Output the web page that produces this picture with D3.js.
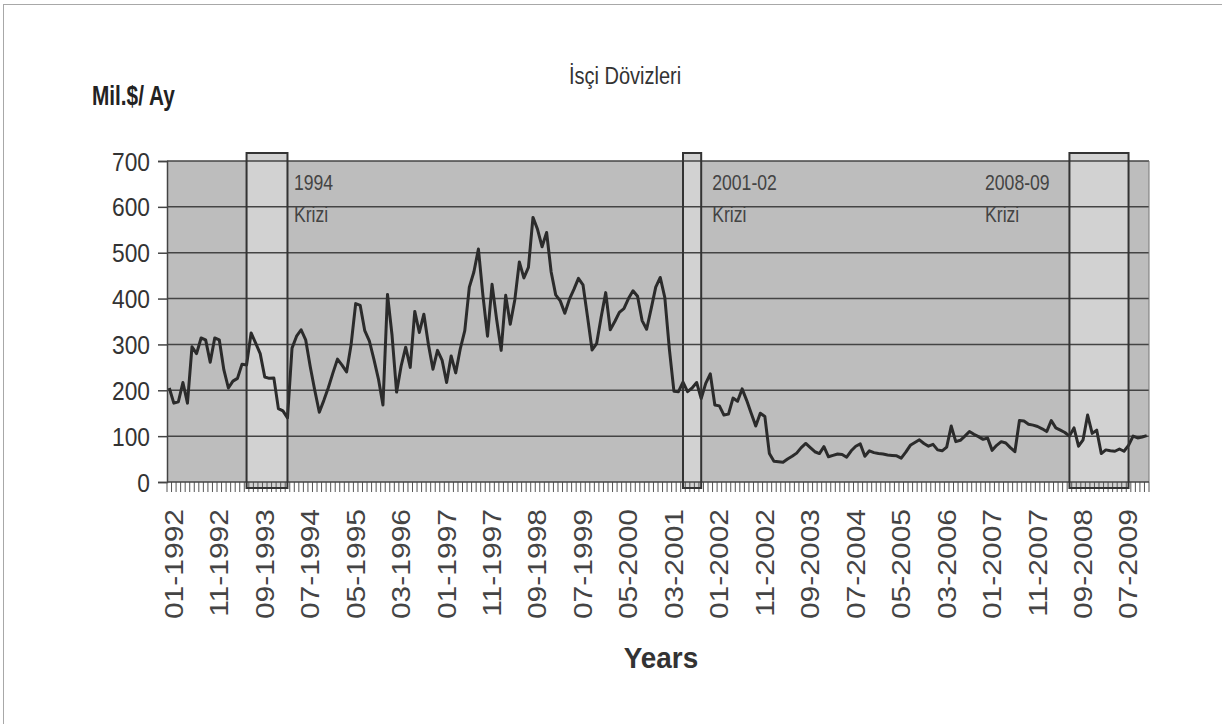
<!DOCTYPE html>
<html><head><meta charset="utf-8">
<script src="https://cdn.jsdelivr.net/npm/d3@7"></script>
<style>
body{margin:0;background:#fff;}
svg{display:block;font-family:"Liberation Sans",Arial,sans-serif;}
</style>
</head><body>
<svg id="c" width="1222" height="724"></svg>
<script>
// ---- DATA ----
const values = [
205,172,175,217,172,295,280,314,310,261,314,310,
245,205,220,226,257,255,325,303,280,229,226,227,
160,155,140,292,318,332,310,252,200,152,178,206,
238,268,255,240,300,389,385,330,308,268,225,168,
409,320,196,253,294,250,372,326,366,300,246,287,
266,217,275,238,290,330,425,458,508,406,318,431,
355,287,407,344,397,480,445,468,577,551,513,544,
458,408,395,368,398,420,444,430,360,288,302,360,
413,332,350,370,378,400,417,405,352,333,378,425,
446,402,290,198,197,218,197,205,217,182,215,236,
168,166,146,148,183,176,203,178,150,122,150,143,
62,45,44,43,50,56,63,75,84,75,66,62,
77,55,58,61,60,54,68,78,83,56,68,64,
62,61,59,58,57,52,65,80,86,92,84,78,
82,70,68,76,122,88,91,100,110,104,99,93,
96,69,80,88,85,75,66,134,133,126,124,121,
116,110,134,118,113,108,100,118,78,92,146,106,
113,62,70,68,67,72,67,80,100,96,98,101
];
const years = [1992,1993,1994,1995,1996,1997,1998,1999,2000,2001,2002,2003,2004,2005,2006,2007,2008,2009];
const monthCodes = ["01","02","03","04","05","06","07","08","09","10","11","12"];
const categories = [];
years.forEach(yr => monthCodes.forEach(m => categories.push(m + "-" + yr)));
const tickLabels = ["01-1992","11-1992","09-1993","07-1994","05-1995","03-1996","01-1997","11-1997",
  "09-1998","07-1999","05-2000","03-2001","01-2002","11-2002","09-2003","07-2004","05-2005",
  "03-2006","01-2007","11-2007","09-2008","07-2009"];
const yTicks = [0,100,200,300,400,500,600,700];
const crisisFrom = ["06-1993","06-2001","07-2008"];
const crisisTo   = ["03-1994","10-2001","08-2009"];
const crisisTitles = ["1994","2001-02","2008-09"];
const crisisWord = "Krizi";
const crisisLabelAt = ["04-1994","12-2001","12-2006"];
const title = "İsçi Dövizleri";
const yTitle = "Mil.$/ Ay";
const xTitle = "Years";

// ---- LAYOUT ----
const svg = d3.select("#c");
const L = 167, R = 1149, T = 161, B = 482;
const x = d3.scaleBand().domain(categories).range([L, R]).padding(0);
const y = d3.scaleLinear().domain([0, 700]).range([B, T]);
const cx = c => x(c) + x.bandwidth() / 2;

// outer frame
svg.append("rect").attr("x", 3.5).attr("y", 4.5).attr("width", 1222).attr("height", 730)
  .attr("fill", "#fff").attr("stroke", "#a8a8a8").attr("stroke-width", 1);

function stext(g, str, px, py, size, sx, opts) {
  opts = opts || {};
  return g.append("text")
    .attr("transform", `translate(${px},${py}) scale(${sx},1)` + (opts.rot ? ` rotate(${opts.rot})` : ""))
    .attr("font-size", size)
    .attr("font-weight", opts.bold ? "bold" : "normal")
    .attr("text-anchor", opts.anchor || "start")
    .attr("fill", opts.fill || "#222")
    .text(str);
}

// plot background
svg.append("rect").attr("x", L).attr("y", T).attr("width", R - L).attr("height", B - T)
  .attr("fill", "#bdbdbd");

// crisis box fills
const boxTop = y(700) - 8, boxBot = y(0) + 6;
crisisFrom.forEach((f, i) => {
  svg.append("rect").attr("x", cx(f)).attr("y", boxTop)
    .attr("width", cx(crisisTo[i]) - cx(f)).attr("height", boxBot - boxTop)
    .attr("fill", "#d2d2d2");
});

// gridlines
svg.append("g").selectAll("line").data(yTicks.filter(v => v > 0)).join("line")
  .attr("x1", L).attr("x2", R).attr("y1", d => y(d)).attr("y2", d => y(d))
  .attr("stroke", "#444").attr("stroke-width", 1.5);

// plot border right
svg.append("line").attr("x1", R).attr("x2", R).attr("y1", T).attr("y2", B)
  .attr("stroke", "#777").attr("stroke-width", 1);

// y axis
const yAxis = d3.axisLeft(y).tickValues(yTicks).tickSize(9).tickFormat("");
const ya = svg.append("g").attr("transform", `translate(${L},0)`).call(yAxis);
ya.selectAll("path,line").attr("stroke", "#444").attr("stroke-width", 1.5);
yTicks.forEach(v => stext(svg, String(v), 150, y(v) + 9.5, 26.5, 0.86, {anchor: "end", fill: "#333"}));

// x axis: tick marks between every month
const tickXs = categories.map(c => x(c)).concat([R]);
svg.append("g").selectAll("line").data(tickXs).join("line")
  .attr("x1", d => d).attr("x2", d => d).attr("y1", B).attr("y2", B + 10)
  .attr("stroke", "#555").attr("stroke-width", 1);
svg.append("line").attr("x1", L).attr("x2", R).attr("y1", B).attr("y2", B)
  .attr("stroke", "#444").attr("stroke-width", 1.5);

tickLabels.forEach(lbl => {
  stext(svg, lbl, cx(lbl) + 13.5, 509, 30, 0.88, {rot: -90, anchor: "end", fill: "#444"});
});

// data line
const line = d3.line().x((d, i) => cx(categories[i])).y(d => y(d));
svg.append("path").datum(values).attr("d", line)
  .attr("fill", "none").attr("stroke", "#2b2b2b").attr("stroke-width", 3)
  .attr("stroke-linejoin", "round");

// crisis box outlines
crisisFrom.forEach((f, i) => {
  svg.append("rect").attr("x", cx(f)).attr("y", boxTop)
    .attr("width", cx(crisisTo[i]) - cx(f)).attr("height", boxBot - boxTop)
    .attr("fill", "none").attr("stroke", "#333").attr("stroke-width", 2);
});

// crisis labels
crisisTitles.forEach((t, i) => {
  const lx = cx(crisisLabelAt[i]) + 2;
  stext(svg, t, lx, 190, 22, 0.8, {fill: "#444"});
  stext(svg, crisisWord, lx, 222, 22, 0.8, {fill: "#444"});
});

// titles
stext(svg, title, 625, 84, 23, 0.87, {anchor: "middle", fill: "#333"});
stext(svg, yTitle, 92, 105, 27, 0.77, {bold: true, fill: "#222"});
stext(svg, xTitle, 661, 668, 30, 0.93, {bold: true, anchor: "middle", fill: "#333"});
</script>
</body></html>
